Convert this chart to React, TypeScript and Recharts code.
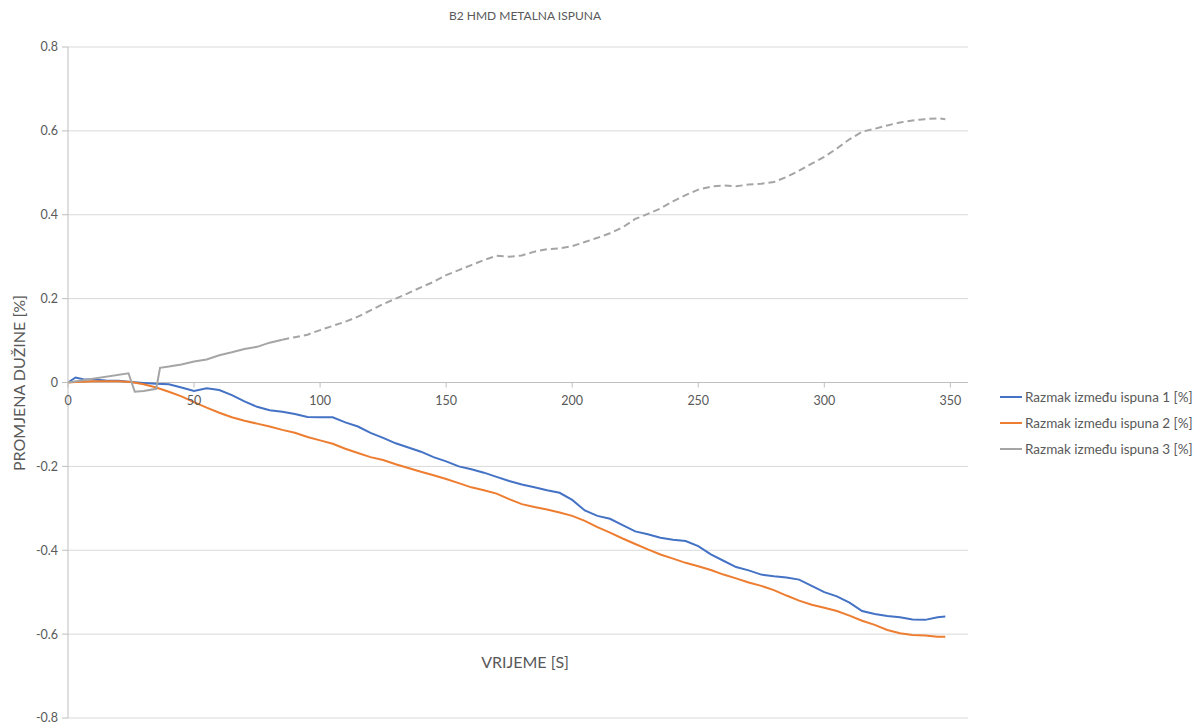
import { LineChart, Line, XAxis, YAxis, CartesianGrid, ReferenceLine } from "recharts";

const times = [
  0, 3, 6, 10, 15, 20, 25, 30, 35, 40, 45, 50, 55, 60, 65, 70, 75, 80, 85, 90, 95, 100, 105, 110, 115, 120,
  125, 130, 135, 140, 145, 150, 155, 160, 165, 170, 175, 180, 185, 190, 195, 200, 205, 210, 215, 220, 225,
  230, 235, 240, 245, 250, 255, 260, 265, 270, 275, 280, 285, 290, 295, 300, 305, 310, 315, 320, 325, 330,
  335, 340, 345, 348,
];

const razmak1 = [
  0, 0.012, 0.008, 0.007, 0.005, 0.004, 0.001, -0.001, -0.003, -0.004, -0.012, -0.02, -0.014, -0.018, -0.03,
  -0.045, -0.058, -0.066, -0.07, -0.075, -0.082, -0.083, -0.083, -0.095, -0.105, -0.12, -0.132, -0.145,
  -0.155, -0.165, -0.178, -0.188, -0.2, -0.207, -0.215, -0.225, -0.235, -0.243, -0.25, -0.257, -0.263,
  -0.28, -0.305, -0.318, -0.325, -0.34, -0.355, -0.362, -0.37, -0.375, -0.378, -0.39, -0.41, -0.425, -0.44,
  -0.448, -0.458, -0.462, -0.465, -0.47, -0.485, -0.5, -0.51, -0.525, -0.545, -0.552, -0.557, -0.56, -0.565,
  -0.566, -0.56, -0.558,
];

const razmak2 = [
  0, 0.001, 0.002, 0.003, 0.003, 0.003, 0.001, -0.004, -0.012, -0.022, -0.033, -0.047, -0.06, -0.072, -0.083,
  -0.091, -0.098, -0.105, -0.113, -0.12, -0.13, -0.138, -0.146, -0.158, -0.168, -0.178, -0.185, -0.195,
  -0.204, -0.213, -0.221, -0.23, -0.24, -0.25, -0.257, -0.265, -0.278, -0.29, -0.297, -0.303, -0.31, -0.318,
  -0.33, -0.345, -0.358, -0.372, -0.385, -0.398, -0.41, -0.42, -0.43, -0.438, -0.447, -0.458, -0.467, -0.477,
  -0.485, -0.495, -0.508, -0.52, -0.53, -0.537, -0.545, -0.556, -0.568, -0.578, -0.59, -0.598, -0.602,
  -0.603, -0.606, -0.606,
];

const times3 = [
  0, 24, 26.5, 30, 35, 36.5, 40, 45, 50, 55, 60, 65, 70, 75, 80, 85, 90, 95, 100, 105, 110, 115, 120, 125,
  130, 135, 140, 145, 150, 155, 160, 165, 170, 175, 180, 185, 190, 195, 200, 205, 210, 215, 220, 225, 230,
  235, 240, 245, 250, 255, 260, 265, 270, 275, 280, 285, 290, 295, 300, 305, 310, 315, 320, 325, 330, 335,
  340, 345, 348,
];

const razmak3 = [
  0, 0.022, -0.022, -0.02, -0.015, 0.035, 0.038, 0.043, 0.05, 0.055, 0.065, 0.072, 0.08, 0.085, 0.095,
  0.102, 0.108, 0.114, 0.125, 0.135, 0.145, 0.157, 0.172, 0.187, 0.2, 0.213, 0.227, 0.24, 0.256, 0.268,
  0.28, 0.292, 0.302, 0.3, 0.303, 0.312, 0.318, 0.32, 0.325, 0.335, 0.345, 0.356, 0.37, 0.39, 0.402, 0.415,
  0.432, 0.447, 0.46, 0.467, 0.47, 0.468, 0.472, 0.474, 0.478, 0.49, 0.505, 0.522, 0.538, 0.558, 0.58,
  0.598, 0.605, 0.613, 0.62, 0.625, 0.628, 0.63, 0.628,
];

// where the grey line turns dashed
const dashFrom = 85;

const seriesNames = ["Razmak između ispuna 1 [%]", "Razmak između ispuna 2 [%]", "Razmak između ispuna 3 [%]"];
const seriesColors = ["#4472C4", "#ED7D31", "#A5A5A5"];

const xTicks = [0, 50, 100, 150, 200, 250, 300, 350];
const yTicks = [-0.8, -0.6, -0.4, -0.2, 0, 0.2, 0.4, 0.6, 0.8];

const data12 = times.map((t, i) => ({ t, r1: razmak1[i], r2: razmak2[i] }));
const data3 = times3.map((t, i) => ({ t, r3: razmak3[i] }));
const data3solid = data3.filter((d) => d.t <= dashFrom);
const data3dashed = data3.filter((d) => d.t >= dashFrom);

const FONT = "Lato, 'Open Sans', sans-serif";
const TEXT = "#595959";
const TOP = 47;
const BOTTOM = 8;
const PLOT_H = 726 - TOP - BOTTOM;
const ZERO_Y = TOP + PLOT_H / 2;

const XTick = ({ x, payload }: any) => (
  <g>
    <line x1={x} x2={x} y1={ZERO_Y} y2={ZERO_Y + 5} stroke="#bfbfbf" />
    <text x={x} y={ZERO_Y + 22} textAnchor="middle" fill={TEXT} fontSize={12.5} fontFamily={FONT}>
      {payload.value}
    </text>
  </g>
);

export default function App() {
  return (
    <div style={{ position: "absolute", left: 0, top: 0, width: 1202, height: 726, background: "#fff", overflow: "hidden" }}>
      <div
        style={{
          position: "absolute", left: 0, width: 1050, top: 8, textAlign: "center",
          fontFamily: FONT, fontSize: 12, color: TEXT,
        }}
      >
        B2 HMD METALNA ISPUNA
      </div>
      <div
        style={{
          position: "absolute", left: 448, width: 154, top: 652, textAlign: "center",
          fontFamily: FONT, fontSize: 16, color: TEXT,
        }}
      >
        VRIJEME [S]
      </div>
      <div
        style={{
          position: "absolute", left: 18, top: 383, transform: "translate(-50%, -50%) rotate(-90deg)",
          whiteSpace: "nowrap", fontFamily: FONT, fontSize: 16, color: TEXT,
        }}
      >
        PROMJENA DUŽINE [%]
      </div>
      <div style={{ position: "absolute", left: 1000, top: 384, fontFamily: FONT, fontSize: 13.5, color: TEXT }}>
        {seriesNames.map((name, i) => (
          <div key={name} style={{ display: "flex", alignItems: "center", height: 26 }}>
            <span style={{ width: 22, height: 2, background: seriesColors[i], marginRight: 3 }} />
            {name}
          </div>
        ))}
      </div>
      <LineChart width={1202} height={726} margin={{ top: TOP, right: 234, bottom: BOTTOM - 1, left: 0 }}>
        <CartesianGrid vertical={false} stroke="#d9d9d9" />
        <XAxis
          type="number"
          dataKey="t"
          domain={[0, 357]}
          ticks={xTicks}
          interval={0}
          height={1}
          axisLine={false}
          tickLine={false}
          tick={<XTick />}
          allowDuplicatedCategory={false}
        />
        <YAxis
          type="number"
          domain={[-0.8, 0.8]}
          ticks={yTicks}
          interval={0}
          width={68}
          stroke="#bfbfbf"
          tickSize={6}
          tickMargin={4}
          tick={{ fill: TEXT, fontSize: 12.5, fontFamily: FONT }}
          tickFormatter={(v: number) => String(Math.round(v * 10) / 10)}
        />
        <ReferenceLine y={0} stroke="#bfbfbf" />
        <Line data={data12} dataKey="r1" name={seriesNames[0]} stroke={seriesColors[0]} strokeWidth={2} dot={false} isAnimationActive={false} />
        <Line data={data12} dataKey="r2" name={seriesNames[1]} stroke={seriesColors[1]} strokeWidth={2} dot={false} isAnimationActive={false} />
        <Line data={data3solid} dataKey="r3" name={seriesNames[2]} stroke={seriesColors[2]} strokeWidth={2} dot={false} isAnimationActive={false} />
        <Line
          data={data3dashed}
          dataKey="r3"
          name={seriesNames[2]}
          stroke={seriesColors[2]}
          strokeWidth={2}
          strokeDasharray="7 4"
          dot={false}
          isAnimationActive={false}
        />
      </LineChart>
    </div>
  );
}
